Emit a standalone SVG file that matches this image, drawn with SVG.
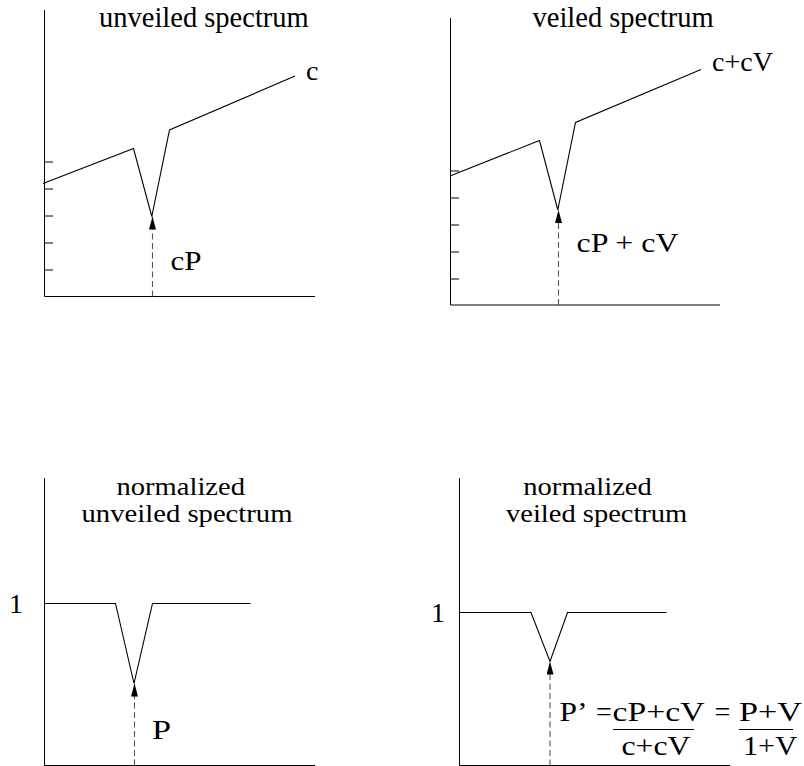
<svg xmlns="http://www.w3.org/2000/svg" width="804" height="766" viewBox="0 0 804 766">
<style>
.ax{stroke:#000;stroke-width:1;fill:none}
.cv{stroke:#000;stroke-width:1.1;fill:none;stroke-linejoin:miter}
.dash{stroke:#555;stroke-width:1.1;stroke-dasharray:6 3.5;fill:none}
.t{font-family:'Liberation Serif','Times New Roman',serif;font-size:28.5px;fill:#000}
.s{font-family:'Liberation Serif','Times New Roman',serif;font-size:26px;fill:#000}
.l{font-family:'Liberation Serif','Times New Roman',serif;font-size:28px;fill:#000}
</style>
<defs>
<marker id="ah" markerUnits="userSpaceOnUse" markerWidth="13" markerHeight="7" viewBox="0 0 13 7" refX="13" refY="3.5" orient="auto">
<path d="M0,0 L13,3.5 L0,7 z" fill="#000"/>
</marker>
</defs>
<rect width="804" height="766" fill="#fff"/>

<g id="panel-unveiled">
<path class="ax" d="M44.5,10 V296.5 H315"/>
<path class="ax" d="M44.5,162 H53 M44.5,189 H53 M44.5,216 H53 M44.5,243 H53 M44.5,270 H53"/>
<polyline class="cv" points="43,183.5 133.5,148.5 151.8,216.5 169.5,130 295,76"/>
<text class="t" x="99" y="27">unveiled spectrum</text>
<text class="l" x="306" y="80">c</text>
<text class="l" x="170.5" y="270" textLength="31" lengthAdjust="spacingAndGlyphs">cP</text>
</g>

<g id="panel-veiled">
<path class="ax" d="M450.5,18 V305 H720"/>
<path class="ax" d="M450.5,171 H459 M450.5,198 H459 M450.5,225 H459 M450.5,252 H459 M450.5,279 H459"/>
<polyline class="cv" points="450,176 539.5,140.5 557.8,210 575.5,122.5 701,69.5"/>
<text class="t" x="532.5" y="27">veiled spectrum</text>
<text class="l" x="712" y="71" textLength="61" lengthAdjust="spacingAndGlyphs">c+cV</text>
<text class="l" x="576.5" y="252" textLength="102" lengthAdjust="spacingAndGlyphs">cP + cV</text>
</g>

<g id="panel-norm-unveiled">
<path class="ax" d="M44.5,478 V766 M44.5,765.5 H315"/>
<polyline class="cv" points="44.5,603.5 115.5,603.5 134,683.5 152.5,603.5 250.5,603.5"/>
<text class="s" x="116.5" y="495" textLength="128.5" lengthAdjust="spacingAndGlyphs">normalized</text>
<text class="s" x="81.5" y="522" textLength="211" lengthAdjust="spacingAndGlyphs">unveiled spectrum</text>
<text class="l" x="9" y="612.5">1</text>
<text class="l" x="152" y="738.5" textLength="19" lengthAdjust="spacingAndGlyphs">P</text>
</g>

<g id="panel-norm-veiled">
<path class="ax" d="M459.5,478 V766 M459.5,765.5 H730"/>
<polyline class="cv" points="459.5,612.5 531,612.5 550,661.5 567.5,612.5 666.5,612.5"/>
<text class="s" x="523.3" y="495" textLength="128.5" lengthAdjust="spacingAndGlyphs">normalized</text>
<text class="s" x="506" y="522" textLength="181.3" lengthAdjust="spacingAndGlyphs">veiled spectrum</text>
<text class="l" x="431" y="622">1</text>
<text class="l" x="559.5" y="720.5" textLength="28" lengthAdjust="spacingAndGlyphs">P’</text>
<text class="l" x="596" y="720.5">=</text>
<text class="l" x="612.5" y="720.5" textLength="92" lengthAdjust="spacingAndGlyphs">cP+cV</text>
<text class="l" x="714.5" y="720.5">=</text>
<text class="l" x="739" y="720.5" textLength="63" lengthAdjust="spacingAndGlyphs">P+V</text>
<path class="ax" d="M613,729.5 H694 M739,729.5 H793"/>
<text class="l" x="621.5" y="755" textLength="69" lengthAdjust="spacingAndGlyphs">c+cV</text>
<text class="l" x="743" y="755" textLength="54" lengthAdjust="spacingAndGlyphs">1+V</text>
</g>

<g id="connectors">
<line class="dash" x1="152.5" y1="296.5" x2="152.5" y2="216.5" marker-end="url(#ah)"/>
<line class="dash" x1="558.5" y1="305" x2="558.5" y2="210" marker-end="url(#ah)"/>
<line class="dash" x1="134.5" y1="765.5" x2="134.5" y2="683.5" marker-end="url(#ah)"/>
<line class="dash" x1="550" y1="765.5" x2="550" y2="661.5" marker-end="url(#ah)"/>
</g>
</svg>
